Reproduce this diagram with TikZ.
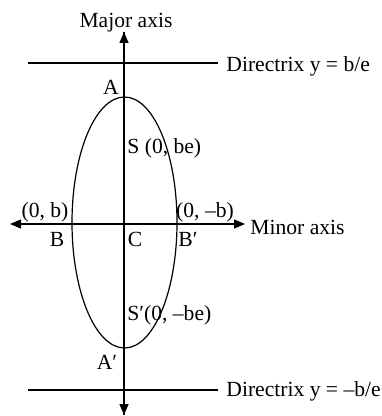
\documentclass[tikz,border=0pt]{standalone}
\usepackage{fontspec}
\setmainfont{Liberation Serif}
\usepackage{tikz}
\usetikzlibrary{arrows.meta}

\begin{document}
\begin{tikzpicture}[x=0.5pt, y=-0.5pt, >={Triangle[length=5.5pt,width=4.5pt]},
    every node/.style={font=\fontsize{10.8}{12}\selectfont, inner sep=0pt},
    axis/.style={line width=0.75pt},
    curve/.style={line width=0.6pt}]
    \useasboundingbox (0,0) rectangle (381,416);

    % Axis end points
    \coordinate (top) at (124,32);
    \coordinate (bottom) at (124,415);
    \coordinate (left) at (10,224);
    \coordinate (right) at (245,224);
    \coordinate (C) at (124.5,222.5);

    % Directrix ends
    \coordinate (d1a) at (28,63);
    \coordinate (d1b) at (218,63);
    \coordinate (d2a) at (28,390);
    \coordinate (d2b) at (218,390);

    % Ellipse
    \draw[curve] (C) ellipse [x radius=26.25pt, y radius=62.75pt];

    % Axes and directrices
    \draw[axis, ->] (bottom) -- (top);
    \draw[axis, ->] (top) -- (bottom);
    \draw[axis, <->] (left) -- (right);
    \draw[axis] (d1a) -- (d1b);
    \draw[axis] (d2a) -- (d2b);

    % Labels
    \node (major) at (126,23) {Major axis};
    \node[anchor=west] (dir1) at (226,66) {Directrix y = b/e};
    \node[anchor=west] (dir2) at (226,391) {Directrix y = --b/e};
    \node[anchor=west] (minor) at (250,227) {Minor axis};
    \node (lA) at (111,87) {A};
    \node (lA2) at (107,362) {A′};
    \node[anchor=west] (lS) at (127,148) {S (0, be)};
    \node[anchor=west] (lS2) at (127,315) {S′(0, --be)};
    \node (lb) at (45,212) {(0, b)};
    \node (lmb) at (205,212) {(0, --b)};
    \node (lB) at (57,239) {B};
    \node (lC) at (135,239) {C};
    \node (lB2) at (188,239) {B′};
\end{tikzpicture}
\end{document}
